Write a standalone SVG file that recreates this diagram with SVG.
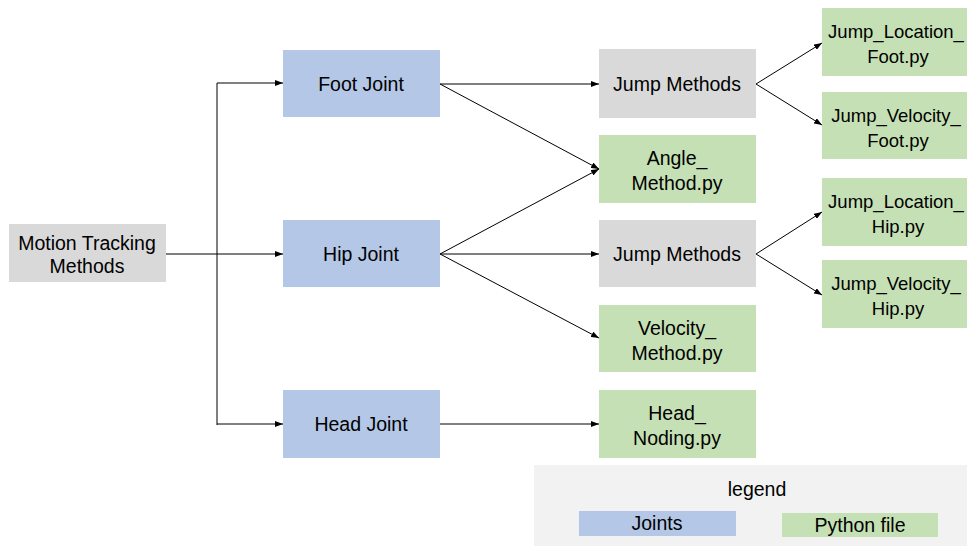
<svg xmlns="http://www.w3.org/2000/svg" width="967" height="546" viewBox="0 0 967 546">
<defs>
<marker id="arr" markerWidth="8" markerHeight="6" refX="8" refY="3" orient="auto" markerUnits="userSpaceOnUse">
<path d="M0,0 L8,3 L0,6 Z" fill="#000"/>
</marker>
<style>
.t{font-family:"Liberation Sans",Arial,sans-serif;font-size:19.5px;fill:#000;text-anchor:middle}
.r{font-size:18.5px}
.blue{fill:#B4C7E7}
.gray{fill:#D9D9D9}
.green{fill:#C5E0B4}
.c{stroke:#000;stroke-width:1;fill:none}
.a{stroke:#000;stroke-width:1;fill:none;marker-end:url(#arr)}
</style>
</defs>
<rect width="967" height="546" fill="#fff"/>
<g id="legend">
<rect x="534" y="465" width="433" height="81" fill="#F2F2F2"/>
<text class="t" x="757" y="496">legend</text>
<rect class="blue" x="579" y="511" width="157" height="25"/>
<text class="t" x="657" y="530">Joints</text>
<rect class="green" x="782" y="513" width="156" height="24"/>
<text class="t" x="860" y="532">Python file</text>
</g>
<g id="connectors">
<path class="c" d="M166,254 H217 M217,83 V425"/>
<path class="a" d="M217,83 H283"/>
<path class="a" d="M217,254 H283"/>
<path class="a" d="M217,424 H283"/>
<path class="a" d="M440,84 H599"/>
<path class="a" d="M440,84 L599,169"/>
<path class="a" d="M440,254 L599,169"/>
<path class="a" d="M440,254 H599"/>
<path class="a" d="M440,254 L599,338"/>
<path class="a" d="M440,424 H599"/>
<path class="a" d="M756,84 L822,43"/>
<path class="a" d="M756,84 L822,125"/>
<path class="a" d="M756,254 L822,212"/>
<path class="a" d="M756,254 L822,295"/>
</g>
<g id="motion"><rect class="gray" x="9" y="224" width="157" height="58"/><text class="t" x="87" y="250">Motion Tracking</text><text class="t" x="87" y="273">Methods</text></g>
<g id="foot"><rect class="blue" x="283" y="50" width="157" height="67"/><text class="t" x="361" y="91">Foot Joint</text></g>
<g id="hip"><rect class="blue" x="283" y="220" width="157" height="67"/><text class="t" x="361" y="261">Hip Joint</text></g>
<g id="head"><rect class="blue" x="283" y="390" width="157" height="68"/><text class="t" x="361" y="431">Head Joint</text></g>
<g id="jump1"><rect class="gray" x="599" y="49" width="157" height="69"/><text class="t" x="677" y="91">Jump Methods</text></g>
<g id="angle"><rect class="green" x="599" y="135" width="157" height="68"/><text class="t" x="677" y="165">Angle_</text><text class="t" x="677" y="190">Method.py</text></g>
<g id="jump2"><rect class="gray" x="599" y="220" width="157" height="67"/><text class="t" x="677" y="261">Jump Methods</text></g>
<g id="velocity"><rect class="green" x="599" y="305" width="157" height="67"/><text class="t" x="677" y="335">Velocity_</text><text class="t" x="677" y="360">Method.py</text></g>
<g id="noding"><rect class="green" x="599" y="390" width="157" height="68"/><text class="t" x="677" y="420">Head_</text><text class="t" x="677" y="445">Noding.py</text></g>
<g id="jlf"><rect class="green" x="822" y="8" width="157" height="68"/><text class="t r" x="896" y="38">Jump_Location_</text><text class="t r" x="898" y="63">Foot.py</text></g>
<g id="jvf"><rect class="green" x="822" y="92" width="157" height="67"/><text class="t r" x="896" y="122">Jump_Velocity_</text><text class="t r" x="898" y="147">Foot.py</text></g>
<g id="jlh"><rect class="green" x="822" y="178" width="157" height="68"/><text class="t r" x="896" y="208">Jump_Location_</text><text class="t r" x="898" y="233">Hip.py</text></g>
<g id="jvh"><rect class="green" x="822" y="260" width="157" height="68"/><text class="t r" x="896" y="290">Jump_Velocity_</text><text class="t r" x="898" y="315">Hip.py</text></g>
</svg>
